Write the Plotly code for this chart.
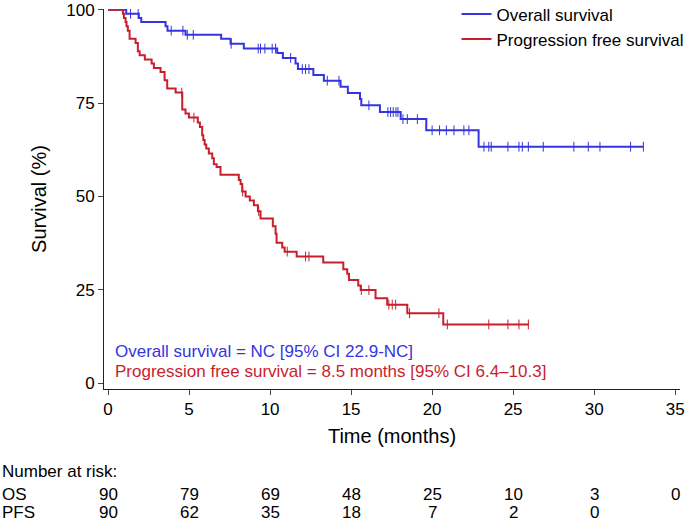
import numpy as np
import plotly.graph_objects as go

# ---- data ----
os_times = [0, 1.12, 1.90, 2.05, 3.55, 3.67, 4.78, 6.98, 7.56, 8.38,
            10.44, 10.79, 11.57, 11.72, 12.67, 13.32, 14.35, 14.80, 15.55, 15.63,
            16.78, 18.06, 19.64, 22.87, 33.04]
os_surv = [100, 98.9, 97.8, 96.7, 95.6, 94.4, 93.3, 92.2, 90.9, 89.6,
           88.4, 87.1, 85.6, 84.1, 82.5, 81.0, 79.4, 77.7, 76.1, 74.4,
           72.6, 70.7, 67.7, 63.3, 63.3]
os_censor = [1.39, 1.86, 3.90, 4.62, 4.89, 5.26, 7.60, 9.27, 9.41, 9.68, 10.13, 10.34,
             11.27, 11.99, 12.19, 12.40, 13.53, 14.25, 16.10, 17.27, 17.44, 17.60, 17.77,
             17.89, 18.20, 18.47, 19.09, 20.00, 20.46, 20.88, 21.35, 21.96, 22.27, 23.20,
             23.50, 23.65, 24.68, 25.36, 25.57, 25.94, 26.86, 28.75, 29.64, 30.36, 32.25, 33.04]

pfs_times = [0, 0.92, 0.98, 1.08, 1.14, 1.22, 1.33, 1.70, 1.84, 1.95,
             2.27, 2.69, 2.83, 3.24, 3.49, 3.65, 4.17, 4.58, 4.78, 4.99,
             5.54, 5.67, 5.81, 5.88, 5.96, 6.06, 6.22, 6.43, 6.53, 6.70,
             6.94, 8.07, 8.18, 8.28, 8.49, 8.75, 9.00, 9.25, 9.41, 10.17,
             10.34, 10.40, 10.75, 10.90, 11.64, 13.28, 14.52, 14.76, 14.87, 15.44,
             15.59, 16.51, 17.23, 18.47, 20.69, 25.98]
pfs_surv = [100, 98.9, 97.8, 96.7, 95.6, 94.4, 92.2, 91.1, 88.9, 87.8,
            86.7, 85.6, 84.4, 83.3, 81.1, 78.9, 77.8, 73.3, 72.2, 71.1,
            69.8, 68.6, 66.4, 65.1, 63.9, 62.8, 61.5, 60.2, 58.6, 57.9,
            55.8, 54.4, 53.3, 51.3, 50.0, 48.9, 47.6, 46.0, 44.1, 42.0,
            40.0, 37.6, 36.3, 35.2, 33.9, 32.3, 30.5, 29.3, 27.6, 26.1,
            24.9, 22.7, 21.0, 18.7, 15.7, 15.7]
pfs_censor = [4.55, 5.30, 8.31, 9.30, 11.06, 12.19, 12.40, 15.63, 16.10, 17.33, 17.54,
              17.75, 18.61, 20.42, 20.94, 23.50, 24.68, 25.36, 25.94]

risk_times = [0, 5, 10, 15, 20, 25, 30, 35]
os_risk = [90, 79, 69, 48, 25, 10, 3, 0]
pfs_risk = [90, 62, 35, 18, 7, 2, 0]

x_ticks = [0, 5, 10, 15, 20, 25, 30, 35]
y_ticks = [0, 25, 50, 75, 100]

BLUE = "#3434e0"
RED = "#c81e2e"
FONT = "Liberation Sans, Arial, Helvetica, sans-serif"
FS = 17

# paper positions for the risk table (plot area 389 px bottom, 380 px tall)
Y_NRISK = -0.216
Y_OS = -0.277
Y_PFS = -0.326


def step_value(times, surv, t):
    i = np.searchsorted(np.asarray(times), t, side="right") - 1
    return surv[max(i, 0)]


fig = go.Figure()
fig.add_trace(go.Scatter(x=os_times, y=os_surv, mode="lines", line_shape="hv",
                         line=dict(color=BLUE, width=2), name="Overall survival"))
fig.add_trace(go.Scatter(x=pfs_times, y=pfs_surv, mode="lines", line_shape="hv",
                         line=dict(color=RED, width=2), name="Progression free survival"))
fig.add_trace(go.Scatter(x=os_censor, y=[step_value(os_times, os_surv, c) for c in os_censor],
                         mode="markers", showlegend=False,
                         marker=dict(symbol="line-ns", size=7, line=dict(color=BLUE, width=1))))
fig.add_trace(go.Scatter(x=pfs_censor, y=[step_value(pfs_times, pfs_surv, c) for c in pfs_censor],
                         mode="markers", showlegend=False,
                         marker=dict(symbol="line-ns", size=7, line=dict(color=RED, width=1))))

annotations = [
    dict(text="Overall survival = NC [95% CI 22.9-NC]", x=0.3, y=8.5, xref="x", yref="y",
         xanchor="left", yanchor="middle", showarrow=False, font=dict(color=BLUE, size=FS)),
    dict(text="Progression free survival = 8.5 months [95% CI 6.4\u201310.3]", x=0.3, y=3.1,
         xref="x", yref="y", xanchor="left", yanchor="middle", showarrow=False,
         font=dict(color=RED, size=FS)),
    dict(text="Number at risk:", x=-0.1806, y=Y_NRISK, xref="paper", yref="paper",
         xanchor="left", yanchor="middle", showarrow=False, font=dict(size=FS)),
    dict(text="OS", x=-0.1806, y=Y_OS, xref="paper", yref="paper",
         xanchor="left", yanchor="middle", showarrow=False, font=dict(size=FS)),
    dict(text="PFS", x=-0.1806, y=Y_PFS, xref="paper", yref="paper",
         xanchor="left", yanchor="middle", showarrow=False, font=dict(size=FS)),
]
for t, n in zip(risk_times, os_risk):
    annotations.append(dict(text=str(n), x=t, y=Y_OS, xref="x", yref="paper",
                            xanchor="center", yanchor="middle", showarrow=False, font=dict(size=FS)))
for t, n in zip(risk_times, pfs_risk):
    annotations.append(dict(text=str(n), x=t, y=Y_PFS, xref="x", yref="paper",
                            xanchor="center", yanchor="middle", showarrow=False, font=dict(size=FS)))

fig.update_layout(
    width=685, height=522,
    margin=dict(l=104, r=5, t=9, b=133, autoexpand=False),
    plot_bgcolor="white", paper_bgcolor="white",
    font=dict(family=FONT, size=FS, color="black"),
    legend=dict(x=0.612, y=1.033, xanchor="left", yanchor="top", font=dict(size=FS),
                bgcolor="rgba(0,0,0,0)", itemwidth=30, tracegroupgap=0),
    annotations=annotations,
    xaxis=dict(range=[-0.25, 35.3], tickvals=x_ticks, ticks="outside", ticklen=5,
               showline=True, linecolor="#222", linewidth=1, showgrid=False, zeroline=False,
               automargin=False, ticklabeloverflow="allow",
               title=dict(text="Time (months)", standoff=10), tickfont=dict(size=FS)),
    yaxis=dict(range=[-1.6, 100.2], tickvals=y_ticks, ticks="outside", ticklen=5,
               showline=True, linecolor="#222", linewidth=1, showgrid=False, zeroline=False,
               automargin=False, ticklabeloverflow="allow",
               title=dict(text="Survival (%)", standoff=14), tickfont=dict(size=FS)),
)

fig.write_html("out.html", config={"displayModeBar": False},
               post_script="document.body.style.margin='0';document.body.style.padding='0';"
                           "document.body.style.overflow='hidden';")
